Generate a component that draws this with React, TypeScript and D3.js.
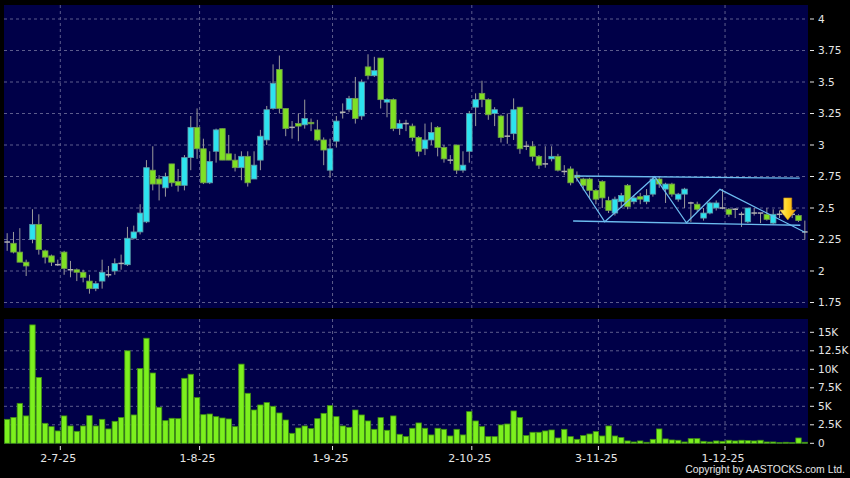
import React from "react";
import * as d3 from "d3";

// ---- data ----
const opens = [
  2.23, 2.22, 2.15, 2.07, 2.25, 2.37, 2.16, 2.12, 2.05, 2.15,
  2.01, 2.01, 1.99, 1.92, 1.86, 1.92, 1.97, 2.0, 2.06, 2.05,
  2.26, 2.31, 2.39, 2.8, 2.73, 2.66, 2.85, 2.71, 2.68, 2.9,
  3.14, 2.97, 2.7, 2.95, 3.13, 2.93, 2.88, 2.82, 2.91, 2.73,
  2.88, 3.04, 3.29, 3.6, 3.29, 3.14, 3.17, 3.16, 3.18, 3.12,
  3.04, 2.8, 3.03, 3.26, 3.28, 3.37, 3.23, 3.62, 3.55, 3.69,
  3.34, 3.36, 3.13, 3.17, 3.15, 3.06, 2.97, 3.04, 3.14, 2.98,
  2.88, 3.0, 2.8, 2.95, 3.3, 3.41, 3.36, 3.25, 3.23, 3.07,
  3.09, 3.3, 2.99, 2.99, 2.91, 2.85, 2.89, 2.91, 2.79, 2.81,
  2.76, 2.73, 2.73, 2.64, 2.71, 2.56, 2.46, 2.55, 2.68, 2.55,
  2.59, 2.55, 2.61, 2.73, 2.65, 2.69, 2.57, 2.61, 2.54, 2.53,
  2.42, 2.46, 2.5, 2.5, 2.49, 2.49, 2.45, 2.39, 2.46, 2.46,
  2.45, 2.38, 2.45, 2.45, 2.45, 2.44, 2.31,
];
const highs = [
  2.3, 2.31, 2.34, 2.09, 2.49, 2.45, 2.17, 2.13, 2.09, 2.16,
  2.08, 2.02, 2.01, 1.97, 1.92, 2.09, 2.04, 2.1, 2.13, 2.35,
  2.36, 2.53, 2.88, 2.99, 2.76, 2.78, 2.85, 2.81, 2.92, 3.23,
  3.29, 3.05, 2.95, 3.13, 3.13, 3.08, 2.93, 2.95, 2.95, 2.95,
  3.12, 3.31, 3.64, 3.71, 3.29, 3.19, 3.25, 3.36, 3.21, 3.2,
  3.06, 3.05, 3.23, 3.33, 3.39, 3.54, 3.52, 3.72, 3.7, 3.69,
  3.37, 3.37, 3.2, 3.2, 3.17, 3.07, 3.17, 3.18, 3.15, 3.0,
  2.92, 3.0, 2.95, 3.27, 3.41, 3.51, 3.37, 3.3, 3.24, 3.25,
  3.37, 3.3, 3.03, 3.03, 2.92, 2.99, 2.99, 2.93, 2.84, 2.83,
  2.79, 2.74, 2.74, 2.65, 2.72, 2.59, 2.59, 2.62, 2.69, 2.6,
  2.62, 2.65, 2.75, 2.75, 2.7, 2.7, 2.62, 2.66, 2.55, 2.55,
  2.5, 2.55, 2.56, 2.65, 2.5, 2.5, 2.47, 2.5, 2.5, 2.46,
  2.5, 2.49, 2.48, 2.47, 2.47, 2.45, 2.4,
];
const lows = [
  2.16, 2.14, 2.07, 1.96, 2.22, 2.13, 2.06, 2.04, 2.04, 1.97,
  1.95, 1.92, 1.91, 1.82, 1.84, 1.86, 1.95, 1.97, 2.01, 2.04,
  2.25, 2.29, 2.38, 2.64, 2.56, 2.59, 2.67, 2.63, 2.64, 2.8,
  2.89, 2.69, 2.69, 2.86, 2.88, 2.88, 2.79, 2.72, 2.67, 2.73,
  2.8, 3.0, 3.28, 3.25, 3.07, 3.05, 3.03, 3.13, 3.11, 3.03,
  2.84, 2.74, 2.98, 3.21, 3.26, 3.17, 3.2, 3.52, 3.54, 3.29,
  3.22, 3.11, 3.08, 3.11, 3.03, 2.91, 2.92, 3.0, 2.91, 2.86,
  2.85, 2.77, 2.78, 2.86, 3.15, 3.3, 3.2, 3.15, 3.02, 3.01,
  3.04, 2.93, 2.96, 2.87, 2.81, 2.82, 2.87, 2.79, 2.76, 2.68,
  2.71, 2.64, 2.57, 2.53, 2.5, 2.46, 2.44, 2.5, 2.49, 2.53,
  2.53, 2.53, 2.59, 2.66, 2.54, 2.59, 2.55, 2.5, 2.39, 2.47,
  2.4, 2.45, 2.48, 2.49, 2.43, 2.42, 2.35, 2.38, 2.44, 2.38,
  2.4, 2.37, 2.42, 2.43, 2.42, 2.39, 2.25,
];
const closes = [
  2.23, 2.15, 2.07, 2.04, 2.37, 2.17, 2.11, 2.07, 2.05, 2.02,
  2.01, 1.99, 1.95, 1.86, 1.9, 1.99, 1.97, 2.06, 2.06, 2.26,
  2.31, 2.46, 2.82, 2.69, 2.69, 2.75, 2.7, 2.68, 2.9, 3.14,
  2.97, 2.7, 2.87, 3.12, 2.88, 2.88, 2.82, 2.91, 2.7, 2.84,
  3.07, 3.28, 3.49, 3.29, 3.13, 3.14, 3.15, 3.21, 3.17, 3.04,
  2.96, 2.97, 3.19, 3.26, 3.37, 3.21, 3.5, 3.55, 3.59, 3.36,
  3.36, 3.13, 3.17, 3.17, 3.06, 2.95, 3.04, 3.1, 2.98, 2.89,
  2.88, 2.8, 2.84, 3.25, 3.36, 3.36, 3.24, 3.28, 3.06, 3.07,
  3.28, 2.97, 2.99, 2.91, 2.84, 2.85, 2.91, 2.8, 2.79, 2.7,
  2.74, 2.68, 2.64, 2.57, 2.58, 2.48, 2.57, 2.6, 2.51, 2.58,
  2.57, 2.6, 2.73, 2.69, 2.69, 2.61, 2.61, 2.65, 2.54, 2.49,
  2.46, 2.54, 2.54, 2.5, 2.45, 2.49, 2.45, 2.5, 2.46, 2.46,
  2.41, 2.45, 2.45, 2.45, 2.45, 2.4, 2.31,
];
// volume in thousands of shares
const volumes = [
  3.24, 3.5, 5.4, 3.7, 16.0, 8.9, 2.7, 2.25, 1.67, 3.7,
  2.34, 1.62, 2.34, 3.74, 2.34, 3.24, 1.94, 2.97, 3.47, 12.5,
  3.83, 10.1, 14.2, 9.5, 4.87, 3.06, 3.38, 3.33, 8.78, 9.33,
  6.17, 3.87, 3.96, 3.6, 3.42, 3.29, 2.25, 10.7, 6.76, 4.5,
  5.18, 5.5, 5.0, 4.1, 3.15, 1.35, 2.07, 2.34, 1.98, 3.33,
  4.05, 5.09, 3.6, 2.34, 2.16, 4.5, 3.83, 3.02, 1.89, 3.47,
  1.76, 3.7, 1.22, 0.9, 2.03, 2.75, 2.03, 1.13, 2.03, 1.89,
  0.99, 1.89, 1.13, 4.28, 3.02, 2.25, 0.9, 0.9, 2.48, 2.61,
  4.37, 3.47, 1.04, 1.49, 1.49, 1.67, 1.8, 0.72, 1.89, 0.9,
  0.54, 1.04, 1.26, 1.58, 0.99, 2.34, 0.99, 0.77, 0.32, 0.18,
  0.32, 0.14, 0.54, 1.94, 0.59, 0.45, 0.41, 0.18, 0.63, 0.63,
  0.27, 0.18, 0.32, 0.27, 0.41, 0.32, 0.41, 0.36, 0.32, 0.41,
  0.18, 0.18, 0.09, 0.14, 0.09, 0.72, 0.14,
];

const xTickIndex = [8, 30, 51, 73, 93, 113];
const xTickLabels = ["2-7-25", "1-8-25", "1-9-25", "2-10-25", "3-11-25", "1-12-25"];
const priceTicks = [4, 3.75, 3.5, 3.25, 3, 2.75, 2.5, 2.25, 2, 1.75];
const priceTickLabels = ["4", "3.75", "3.5", "3.25", "3", "2.75", "2.5", "2.25", "2", "1.75"];
const volTicks = [15, 12.5, 10, 7.5, 5, 2.5, 0];
const volTickLabels = ["15K", "12.5K", "10K", "7.5K", "5K", "2.5K", "0"];

// pattern overlay (index, price)
const zigIdx = [89.7, 94.4, 102.3, 107.3, 112.6, 126.0];
const zigPrice = [2.754, 2.391, 2.748, 2.383, 2.648, 2.307];
const upperIdx = [89.7, 125.2];
const upperPrice = [2.754, 2.737];
const lowerIdx = [89.4, 125.3];
const lowerPrice = [2.397, 2.363];
const arrowIdx = 123.3;
const arrowTopPrice = 2.58;
const arrowTipPrice = 2.405;

const W = 850;
const H = 478;
const PL = 4, PR = 808;
const MAIN_T = 5, MAIN_B = 308;
const VOL_T = 319, VOL_B = 444;

const NAVY = "#000048";
const GRID = "#5c5c8c";
const CYAN = "#2de3ef";
const LIME = "#7fe024";
const TXT = "#e6e6e6";
const FONT = "DejaVu Sans, Verdana, sans-serif";

export default function App() {
  const n = closes.length;
  const x = d3.scaleLinear().domain([-0.5, n - 0.5]).range([PL, PR]);
  const y = d3.scaleLinear().domain([1.75, 4]).range([302.5, 19]);
  const yv = d3.scaleLinear().domain([0, 15]).range([443.3, 332.3]);
  const step = x(1) - x(0);
  const bw = step * 0.88;
  const vbw = step * 0.85;

  const line = d3
    .line<[number, number]>()
    .x((d) => x(d[0]))
    .y((d) => y(d[1]));

  const zig = zigIdx.map((v, i) => [v, zigPrice[i]] as [number, number]);
  const upper = upperIdx.map((v, i) => [v, upperPrice[i]] as [number, number]);
  const lower = lowerIdx.map((v, i) => [v, lowerPrice[i]] as [number, number]);

  const ax = x(arrowIdx);
  const aTop = y(arrowTopPrice);
  const aTip = y(arrowTipPrice);
  const headH = 10;
  const arrowPts = [
    [ax - 4, aTop],
    [ax + 4, aTop],
    [ax + 4, aTip - headH],
    [ax + 8, aTip - headH],
    [ax, aTip],
    [ax - 8, aTip - headH],
    [ax - 4, aTip - headH],
  ]
    .map((p) => p.join(","))
    .join(" ");

  const gridX = xTickIndex.map((i) => x(i) + 2.5);

  return (
    <svg
      width={W}
      height={H}
      style={{ position: "absolute", left: 0, top: 0, display: "block" }}
      fontFamily={FONT}
    >
      <defs>
        <linearGradient id="arrowGrad" x1="0" x2="1" y1="0" y2="0">
          <stop offset="0%" stopColor="#fff07a" />
          <stop offset="50%" stopColor="#ffd21e" />
          <stop offset="100%" stopColor="#f0a010" />
        </linearGradient>
      </defs>
      <rect x={0} y={0} width={W} height={H} fill="#000" />
      {/* main panel */}
      <rect x={PL} y={MAIN_T} width={PR - PL} height={MAIN_B - MAIN_T} fill={NAVY} />
      {priceTicks.map((p, i) => (
        <line key={"hg" + i} x1={PL} x2={PR} y1={y(p)} y2={y(p)} stroke={GRID} strokeDasharray="3,3" />
      ))}
      {gridX.map((gx, i) => (
        <line key={"vg" + i} x1={gx} x2={gx} y1={MAIN_T} y2={MAIN_B} stroke={GRID} strokeDasharray="3,3" />
      ))}
      {/* candles */}
      {closes.map((c, i) => {
        const o = opens[i];
        const cx = x(i);
        const up = c > o;
        const doji = c === o;
        const top = y(Math.max(o, c));
        const bot = y(Math.min(o, c));
        return (
          <g key={"c" + i}>
            <line x1={cx} x2={cx} y1={y(highs[i])} y2={y(lows[i])} stroke="#9a9a9a" strokeWidth={1} />
            {doji ? (
              <line x1={cx - bw / 2} x2={cx + bw / 2} y1={top} y2={top} stroke="#b0b0b0" strokeWidth={1.5} />
            ) : (
              <rect
                x={cx - bw / 2}
                y={top}
                width={bw}
                height={Math.max(bot - top, 1.5)}
                fill={up ? CYAN : LIME}
                stroke={up ? "#5f9aa8" : "#6f9a4a"}
                strokeWidth={0.8}
              />
            )}
          </g>
        );
      })}
      {/* pattern overlay */}
      <path d={line(upper) || ""} fill="none" stroke="#6cbcf0" strokeWidth={1.3} />
      <path d={line(lower) || ""} fill="none" stroke="#6cbcf0" strokeWidth={1.3} />
      <path d={line(zig) || ""} fill="none" stroke="#6cbcf0" strokeWidth={1.2} />
      <polygon points={arrowPts} fill="url(#arrowGrad)" stroke="#c88a10" strokeWidth={0.6} />
      {/* price axis */}
      {priceTicks.map((p, i) => (
        <g key={"pt" + i}>
          <line x1={810} x2={814} y1={y(p)} y2={y(p)} stroke={TXT} />
          <text x={818} y={y(p)} dy="0.35em" fontSize={10.5} fill={TXT}>
            {priceTickLabels[i]}
          </text>
        </g>
      ))}
      {/* volume panel */}
      <rect x={PL} y={VOL_T} width={PR - PL} height={VOL_B - VOL_T} fill={NAVY} />
      {volTicks.slice(0, -1).map((v, i) => (
        <line key={"vh" + i} x1={PL} x2={PR} y1={yv(v)} y2={yv(v)} stroke={GRID} strokeDasharray="3,3" />
      ))}
      {gridX.map((gx, i) => (
        <line key={"vvg" + i} x1={gx} x2={gx} y1={VOL_T} y2={VOL_B} stroke={GRID} strokeDasharray="3,3" />
      ))}
      {volumes.map((v, i) => (
        <rect
          key={"v" + i}
          x={x(i) - vbw / 2}
          y={yv(v)}
          width={vbw}
          height={yv(0) - yv(v)}
          fill="#7cf01e"
          stroke="#3f8f12"
          strokeWidth={0.8}
        />
      ))}
      {volTicks.map((v, i) => (
        <g key={"vt" + i}>
          <line x1={810} x2={814} y1={yv(v)} y2={yv(v)} stroke={TXT} />
          <text x={818} y={yv(v)} dy="0.35em" fontSize={10.5} fill={TXT}>
            {volTickLabels[i]}
          </text>
        </g>
      ))}
      {/* x axis */}
      {gridX.map((gx, i) => (
        <g key={"xt" + i}>
          <line x1={gx} x2={gx} y1={446} y2={450} stroke={TXT} />
          <text x={gx - 2} y={458} dy="0.35em" fontSize={11} fill={TXT} textAnchor="middle">
            {xTickLabels[i]}
          </text>
        </g>
      ))}
      <text x={845} y={469.5} dy="0.35em" fontSize={10.4} fill={TXT} textAnchor="end" fontFamily="Liberation Sans, Arial, sans-serif">
        Copyright by AASTOCKS.com Ltd.
      </text>
    </svg>
  );
}
